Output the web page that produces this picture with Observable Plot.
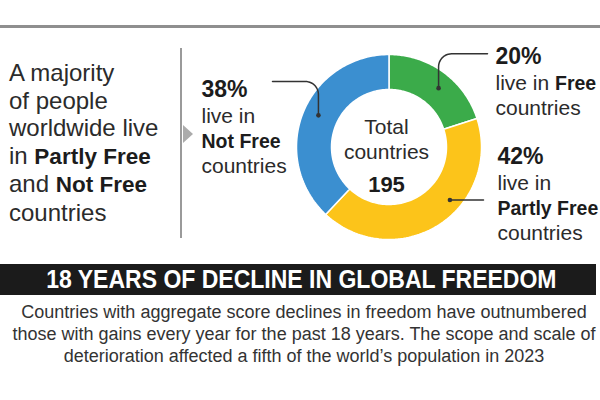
<!DOCTYPE html>
<html><head><meta charset="utf-8">
<script src="https://cdn.jsdelivr.net/npm/d3@7"></script>
<script src="https://cdn.jsdelivr.net/npm/@observablehq/plot@0.6"></script>
<style>
html,body{margin:0;padding:0;background:#fff;}
#wrap{position:relative;width:600px;height:400px;overflow:hidden;font-family:"Liberation Sans",Arial,sans-serif;color:#2b2b2b;}
#chart{position:absolute;left:0;top:0;}
.toprule{position:absolute;left:0;top:25px;width:600px;height:3px;background:#8f8f8f;}
#intro{position:absolute;left:9px;top:59px;font-size:24px;line-height:27.5px;white-space:nowrap;color:#2b2b2b;}
#intro b{font-size:22.5px;color:#1c1c1c;}
.vrule{position:absolute;left:180px;top:48px;width:1.5px;height:190px;background:#9a9a9a;}
.tri{position:absolute;left:183px;top:125px;width:0;height:0;border-top:9px solid transparent;border-bottom:9px solid transparent;border-left:10px solid #ababab;}
#banner{position:absolute;left:0;top:264px;width:596px;height:31px;background:#1b1b1b;text-align:center;line-height:31px;white-space:nowrap;}
#banner span{display:inline-block;color:#fff;font-weight:bold;font-size:25px;transform:scaleX(0.92);transform-origin:center;margin-left:7px;}
#body{position:absolute;left:8px;width:592px;top:301px;text-align:center;font-size:18px;line-height:22px;color:#333;white-space:nowrap;}
</style></head><body>
<div id="wrap">
  <div id="chart"></div>
  <div class="toprule"></div>
  <div id="intro"></div>
  <div class="vrule"></div>
  <div class="tri"></div>
  <div id="banner"><span></span></div>
  <div id="body"></div>
</div>
<script>
// ---- data ----
const categories = ["Free", "Partly Free", "Not Free"];
const shares = [20, 42, 38];           // % of people
const totalCountries = 195;
const centerLines = ["Total", "countries"];
const introLines = ["A majority", "of people", "worldwide live", "in **Partly Free**", "and **Not Free**", "countries"];
const bannerTitle = "18 YEARS OF DECLINE IN GLOBAL FREEDOM";
const bodyLines = [
  "Countries with aggregate score declines in freedom have outnumbered",
  "those with gains every year for the past 18 years. The scope and scale of",
  "deterioration affected a fifth of the world\u2019s population in 2023"
];

// ---- styles / layout ----
const sliceColors = ["#3bab4a", "#fcc41a", "#3b8fd0"];
const FONT = "Liberation Sans, Arial, sans-serif";
const CX = 389, CY = 147, W = 600, H = 255;
const R_IN = 57.5, R_OUT = 92.5;
// per-slice label layout, offsets relative to donut centre (px, y down)
const labelLayout = {
  "Free":        {frac: 0.55, r: 77, textX: 106, pctY: -84, inline: true,  leader: "elbow", endX: 98,   lineY: -93.7, corner: 13},
  "Partly Free": {frac: 0.39, r: 80, textX: 108, pctY: 16,  inline: false, leader: "flat",  endX: 94},
  "Not Free":    {frac: 0.52, r: 78, textX: -188, pctY: -51, inline: false, leader: "elbow", endX: -117, lineY: -66, corner: 13}
};
const LINE_GAP = [0, 26, 51, 76];

// ---- HTML texts ----
document.getElementById("intro").innerHTML = introLines
  .map(l => l.replace(/\*\*(.+?)\*\*/g, "<b>$1</b>")).join("<br>");
document.querySelector("#banner span").textContent = bannerTitle;
document.getElementById("body").innerHTML = bodyLines.join("<br>");

// ---- slices ----
const total = d3.sum(shares);
let acc = 0;
const slices = categories.map((c, i) => {
  const a0 = acc / total * 2 * Math.PI; acc += shares[i];
  const a1 = acc / total * 2 * Math.PI;
  return {key: c, share: shares[i], a0, a1};
});
const N = 90;
const ring = slices.flatMap(s => d3.range(N + 1).map(k => {
  const t = s.a0 + (s.a1 - s.a0) * k / N;
  return {key: s.key, x1: R_IN * Math.sin(t), y1: R_IN * Math.cos(t), x2: R_OUT * Math.sin(t), y2: R_OUT * Math.cos(t)};
}));

// leaders & dots
const dots = [], leaders = [];
slices.forEach(s => {
  const L = labelLayout[s.key];
  const t = s.a0 + (s.a1 - s.a0) * L.frac;
  const x0 = L.r * Math.sin(t), y0 = L.r * Math.cos(t);
  dots.push({key: s.key, x: x0, y: y0});
  const pts = [[x0, y0]];
  if (L.leader === "elbow") {
    const Ly = -L.lineY, c = L.corner, sg = Math.sign(L.endX - x0);
    const ax = x0 + sg * c, ay = Ly - c;
    const th0 = sg > 0 ? Math.PI : 0, th1 = Math.PI / 2;
    for (let k = 0; k <= 12; k++) {
      const th = th0 + (th1 - th0) * k / 12;
      pts.push([ax + c * Math.cos(th), ay + c * Math.sin(th)]);
    }
    pts.push([L.endX, Ly]);
  } else {
    pts.push([L.endX, y0]);
  }
  pts.forEach(p => leaders.push({key: s.key, x: p[0], y: p[1]}));
});

// label rows
const ctx = document.createElement("canvas").getContext("2d");
function measure(txt, size, weight) { ctx.font = `${weight} ${size}px "Liberation Sans", Arial, sans-serif`; return ctx.measureText(txt).width; }
const pctRows = [], catRows = [], regRows = [];
slices.forEach(s => {
  const L = labelLayout[s.key];
  const y = k => -(L.pctY + LINE_GAP[k]);
  pctRows.push({x: L.textX, y: y(0), text: `${s.share}%`});
  if (L.inline) {
    regRows.push({x: L.textX, y: y(1), text: "live in "});
    catRows.push({x: L.textX + measure("live in ", 21, "normal"), y: y(1), text: s.key});
    regRows.push({x: L.textX, y: y(2), text: "countries"});
  } else {
    regRows.push({x: L.textX, y: y(1), text: "live in"});
    catRows.push({x: L.textX, y: y(2), text: s.key});
    regRows.push({x: L.textX, y: y(3), text: "countries"});
  }
});
const centerRows = [
  {x: -3, y: -(133 - CY), text: centerLines[0]},
  {x: -3, y: -(158 - CY), text: centerLines[1]}
];
const centerTotal = [{x: -3, y: -(191 - CY), text: String(totalCountries)}];

const plot = Plot.plot({
  width: W, height: H, margin: 0,
  style: {background: "transparent", fontFamily: FONT},
  x: {domain: [-CX, W - CX], axis: null},
  y: {domain: [CY - H, CY], axis: null},
  color: {domain: categories, range: sliceColors},
  marks: [
    Plot.area(ring, {x1: "x1", y1: "y1", x2: "x2", y2: "y2", z: "key", fill: "key", stroke: "white", strokeWidth: 1.5}),
    Plot.line(leaders, {x: "x", y: "y", z: "key", stroke: "#333", strokeWidth: 1.5}),
    Plot.dot(dots, {x: "x", y: "y", r: 2.3, fill: "#333", stroke: "none"}),
    Plot.text(pctRows, {x: "x", y: "y", text: "text", textAnchor: "start", lineAnchor: "bottom", fontSize: 23, fontWeight: "bold", fill: "#1c1c1c", fontFamily: FONT}),
    Plot.text(catRows, {x: "x", y: "y", text: "text", textAnchor: "start", lineAnchor: "bottom", fontSize: 19.5, fontWeight: "bold", fill: "#1c1c1c", fontFamily: FONT}),
    Plot.text(regRows, {x: "x", y: "y", text: "text", textAnchor: "start", lineAnchor: "bottom", fontSize: 21, fill: "#2b2b2b", fontFamily: FONT}),
    Plot.text(centerRows, {x: "x", y: "y", text: "text", textAnchor: "middle", lineAnchor: "bottom", fontSize: 21, fill: "#2b2b2b", fontFamily: FONT}),
    Plot.text(centerTotal, {x: "x", y: "y", text: "text", textAnchor: "middle", lineAnchor: "bottom", fontSize: 22, fontWeight: "bold", fill: "#1c1c1c", fontFamily: FONT})
  ]
});
document.getElementById("chart").appendChild(plot);
</script>
</body></html>
